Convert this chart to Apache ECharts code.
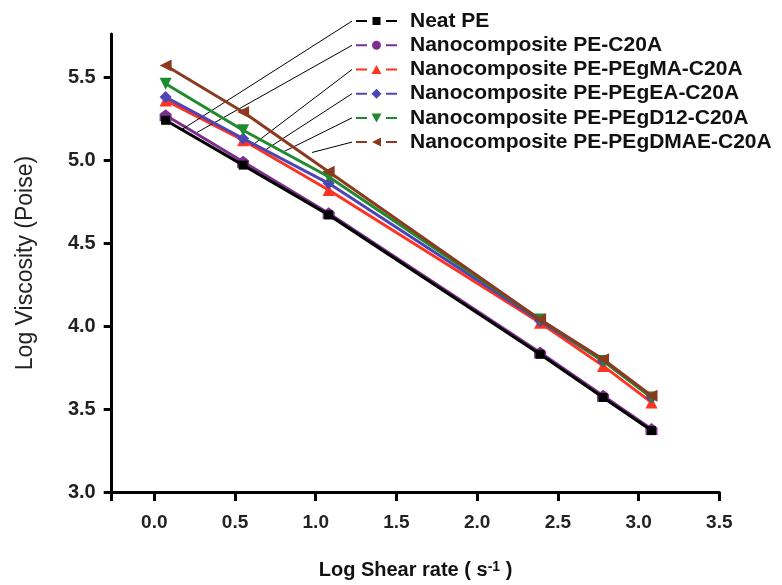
<!DOCTYPE html>
<html>
<head>
<meta charset="utf-8">
<script src="https://cdn.jsdelivr.net/npm/echarts@6/dist/echarts.min.js"></script>
<style>html,body{margin:0;padding:0;background:#fff}#c{width:782px;height:585px}</style>
</head>
<body>
<div id="c"></div>
<script>
// ---- data ----
const shearRate = [0.07, 0.55, 1.08, 2.39, 2.78, 3.08];
const neatPE      = [5.24, 4.97, 4.67, 3.83, 3.57, 3.37];
const peC20A      = [5.27, 4.99, 4.68, 3.84, 3.58, 3.38];
const pegMA       = [5.36, 5.12, 4.82, 4.02, 3.76, 3.54];
const pegEA       = [5.38, 5.13, 4.86, 4.03, 3.79, 3.57];
const pegD12      = [5.46, 5.18, 4.90, 4.04, 3.79, 3.57];
const pegDMAE     = [5.57, 5.29, 4.93, 4.04, 3.80, 3.58];
const seriesNames = ['Neat PE', 'Nanocomposite PE-C20A', 'Nanocomposite PE-PEgMA-C20A',
  'Nanocomposite PE-PEgEA-C20A', 'Nanocomposite PE-PEgD12-C20A', 'Nanocomposite PE-PEgDMAE-C20A'];
const xTicks = [0, 0.5, 1.0, 1.5, 2.0, 2.5, 3.0, 3.5];
const yTicks = [3.0, 3.5, 4.0, 4.5, 5.0, 5.5];
// leader-line targets (data coordinates on the curves)
const leaderX = [0.172, 0.265, 0.605, 0.692, 0.804, 0.977];
const leaderY = [5.185, 5.167, 5.088, 5.064, 5.052, 5.046];

const values = [neatPE, peC20A, pegMA, pegEA, pegD12, pegDMAE];
const colors = ['#000000', '#7d2f8f', '#ff3322', '#4b45b5', '#1f8a2e', '#8b3a20'];
const symbols = ['rect', 'path://M0,4 L5,0 L10,4 L10,10 L0,10 Z', 'triangle', 'diamond', 'triangle', 'triangle'];
const rotates = [0, 0, 0, 0, 180, 90];
const dashes = 'M0,4 H11 V6 H0 Z M30,4 H41 V6 H30 Z ';
const legendMarks = [
  'M16.5,1 H24.5 V9 H16.5 Z',
  'M20.5,0.5 A4.5,4.5 0 1,1 20.49,0.5 Z',
  'M15.5,9.5 L20.5,0.5 L25.5,9.5 Z',
  'M20.5,0 L25.5,5 L20.5,10 L15.5,5 Z',
  'M15.5,0.5 L25.5,0.5 L20.5,9.5 Z',
  'M25,0.5 L25,9.5 L16,5 Z'
];

const legendTop = 9, rowH = 24.2, leaderStartX = 352;

const chart = echarts.init(document.getElementById('c'), null, {renderer: 'canvas'});
const fam = '"Liberation Sans", Arial, sans-serif';

const series = values.map((v, i) => ({
  name: seriesNames[i],
  type: 'line',
  data: shearRate.map((x, k) => [x, v[k]]),
  symbol: symbols[i],
  symbolRotate: rotates[i],
  symbolSize: i === 0 ? 9 : 12,
  showSymbol: true,
  lineStyle: {color: colors[i], width: 3},
  itemStyle: {color: colors[i], borderWidth: 0},
  z: 2 + i,
  animation: false
}));

series[0].markLine = {
  silent: true,
  symbol: ['none', 'none'],
  label: {show: false},
  lineStyle: {color: '#000', width: 1, type: 'solid'},
  animation: false,
  data: leaderX.map((lx, i) => [
    {x: leaderStartX, y: legendTop + rowH / 2 + i * rowH},
    {coord: [lx, leaderY[i]]}
  ])
};
series[0].z = 10;

chart.setOption({
  animation: false,
  grid: {left: 111.7, right: 62.7, top: 34, bottom: 93},
  legend: {
    orient: 'vertical',
    left: 356, top: legendTop,
    padding: 0,
    itemGap: 0,
    itemWidth: 41, itemHeight: 10,
    itemStyle: {borderWidth: 0},
    textStyle: {fontFamily: fam, fontSize: 21, fontWeight: 'bold', color: '#111', lineHeight: rowH, padding: [0, 0, 0, 8]},
    data: seriesNames.map((n, i) => ({name: n, icon: 'path://' + dashes + legendMarks[i]}))
  },
  xAxis: {
    type: 'value', min: -0.264, max: 3.5,
    axisLine: {onZero: false, lineStyle: {color: '#000', width: 3}},
    axisTick: {show: true, length: 9, lineStyle: {color: '#000', width: 3}, customValues: [-0.264].concat(xTicks)},
    axisLabel: {customValues: xTicks, margin: 21, fontFamily: fam, fontSize: 19, fontWeight: 'bold', color: '#222',
      formatter: v => v.toFixed(1)},
    splitLine: {show: false},
    name: 'Log Shear rate ( s{sup|-1} )',
    nameLocation: 'middle', nameGap: 68,
    nameTextStyle: {fontFamily: fam, fontSize: 20, fontWeight: 'bold', color: '#111',
      rich: {sup: {fontFamily: fam, fontSize: 14, fontWeight: 'bold', verticalAlign: 'top', color: '#111'}}}
  },
  yAxis: {
    type: 'value', min: 3.0, max: 5.76,
    axisLine: {onZero: false, lineStyle: {color: '#000', width: 3}},
    axisTick: {show: true, length: 8, lineStyle: {color: '#000', width: 3}, customValues: yTicks},
    axisLabel: {customValues: yTicks, margin: 16, fontFamily: fam, fontSize: 20, fontWeight: 'bold', color: '#222',
      formatter: v => v.toFixed(1)},
    splitLine: {show: false},
    name: 'Log Viscosity (Poise)',
    nameLocation: 'middle', nameGap: 75, nameRotate: 90,
    nameTextStyle: {fontFamily: fam, fontSize: 23, color: '#222'}
  },
  series: series
});
</script>
</body>
</html>
